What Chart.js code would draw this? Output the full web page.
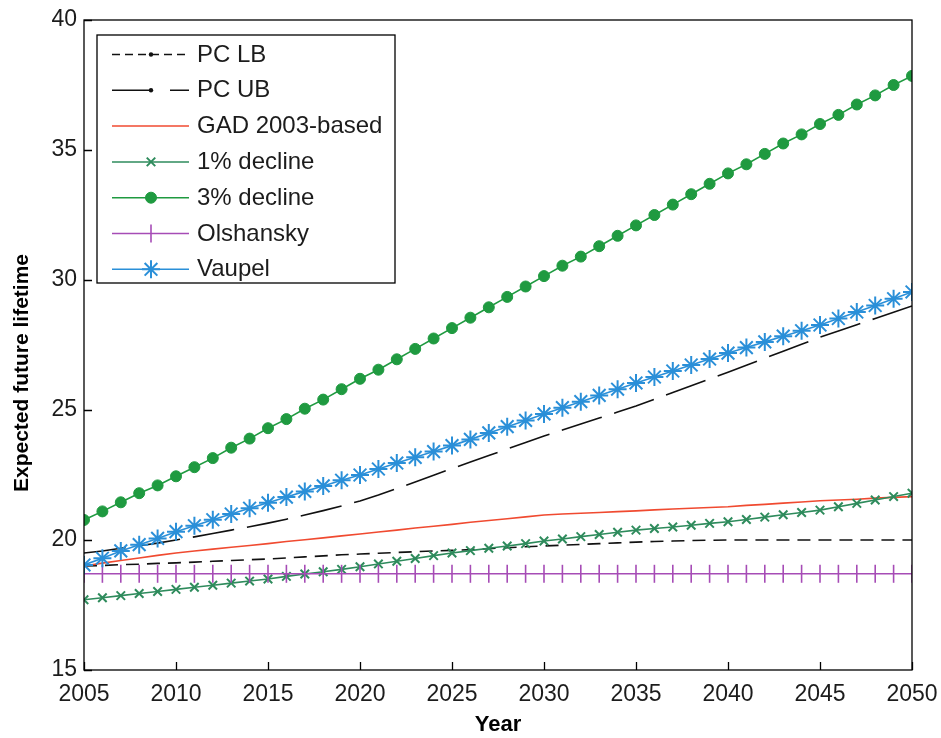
<!DOCTYPE html>
<html>
<head>
<meta charset="utf-8">
<script src="https://cdn.jsdelivr.net/npm/chart.js@4.4.1/dist/chart.umd.min.js"></script>
<style>
  html, body { margin: 0; padding: 0; background: #ffffff; }
  canvas { display: block; }
</style>
</head>
<body>
<canvas id="c" width="941" height="738"></canvas>
<script>
// Projection years and tick values
const years = [];
for (let y = 2005; y <= 2050; y++) years.push(y);
const xTicks = [2005, 2010, 2015, 2020, 2025, 2030, 2035, 2040, 2045, 2050];
const yTicks = [15, 20, 25, 30, 35, 40];

// Expected future lifetime by scenario, one value per year 2005-2050
const pcLB = [19.00, 19.02, 19.05, 19.07, 19.10, 19.12, 19.15, 19.18, 19.21, 19.24,
              19.27, 19.31, 19.35, 19.39, 19.43, 19.46, 19.49, 19.52, 19.55, 19.58,
              19.60, 19.63, 19.67, 19.70, 19.74, 19.77, 19.80, 19.83, 19.86, 19.89,
              19.92, 19.94, 19.96, 19.98, 19.99, 20.00, 20.00, 20.00, 20.00, 20.00,
              20.00, 20.00, 20.00, 20.00, 20.00, 20.00];
const pcUB = [19.50, 19.58, 19.68, 19.78, 19.88, 20.00, 20.12, 20.25, 20.38, 20.51,
              20.65, 20.80, 20.96, 21.13, 21.31, 21.50, 21.73, 21.98, 22.23, 22.49,
              22.75, 23.00, 23.25, 23.50, 23.75, 24.00, 24.23, 24.46, 24.69, 24.92,
              25.15, 25.41, 25.67, 25.93, 26.19, 26.45, 26.72, 26.99, 27.26, 27.53,
              27.80, 28.04, 28.28, 28.52, 28.76, 29.00];
const gad2003 = [19.00, 19.11, 19.21, 19.31, 19.41, 19.50, 19.58, 19.65, 19.72, 19.79,
                 19.86, 19.94, 20.01, 20.08, 20.16, 20.23, 20.31, 20.38, 20.46, 20.53,
                 20.60, 20.68, 20.75, 20.82, 20.89, 20.96, 21.00, 21.03, 21.06, 21.09,
                 21.12, 21.16, 21.19, 21.22, 21.25, 21.28, 21.33, 21.37, 21.42, 21.46,
                 21.51, 21.54, 21.57, 21.61, 21.64, 21.67];
const decline1 = [17.70, 17.78, 17.86, 17.94, 18.02, 18.10, 18.18, 18.26, 18.34, 18.42,
                  18.50, 18.60, 18.69, 18.78, 18.87, 18.97, 19.08, 19.18, 19.29, 19.40,
                  19.50, 19.59, 19.68, 19.77, 19.86, 19.96, 20.04, 20.13, 20.21, 20.30,
                  20.38, 20.44, 20.50, 20.57, 20.64, 20.70, 20.79, 20.88, 20.97, 21.06,
                  21.15, 21.28, 21.41, 21.54, 21.67, 21.80];
const decline3 = [20.77, 21.10, 21.45, 21.80, 22.10, 22.45, 22.80, 23.15, 23.55, 23.90,
                  24.30, 24.65, 25.05, 25.40, 25.80, 26.20, 26.55, 26.95, 27.35, 27.75,
                  28.15, 28.55, 28.95, 29.35, 29.75, 30.15, 30.55, 30.90, 31.30, 31.70,
                  32.10, 32.50, 32.90, 33.30, 33.70, 34.10, 34.45, 34.85, 35.25, 35.60,
                  36.00, 36.35, 36.75, 37.10, 37.50, 37.85];
const olshansky = [18.70, 18.70, 18.70, 18.70, 18.70, 18.70, 18.70, 18.70, 18.70, 18.70,
                   18.70, 18.70, 18.70, 18.70, 18.70, 18.70, 18.70, 18.70, 18.70, 18.70,
                   18.70, 18.70, 18.70, 18.70, 18.70, 18.70, 18.70, 18.70, 18.70, 18.70,
                   18.70, 18.70, 18.70, 18.70, 18.70, 18.70, 18.70, 18.70, 18.70, 18.70,
                   18.70, 18.70, 18.70, 18.70, 18.70, 18.70];
const vaupel = [19.04, 19.30, 19.58, 19.82, 20.06, 20.32, 20.55, 20.78, 21.00, 21.22,
                21.43, 21.65, 21.87, 22.08, 22.30, 22.50, 22.73, 22.96, 23.18, 23.40,
                23.63, 23.87, 24.12, 24.36, 24.60, 24.85, 25.09, 25.32, 25.56, 25.80,
                26.04, 26.27, 26.50, 26.73, 26.96, 27.19, 27.40, 27.62, 27.84, 28.05,
                28.27, 28.52, 28.77, 29.02, 29.28, 29.54];

const seriesNames = ['PC LB', 'PC UB', 'GAD 2003-based', '1% decline', '3% decline', 'Olshansky', 'Vaupel'];
const yTitle = 'Expected future lifetime';
const xTitle = 'Year';

const toXY = vals => years.map((yr, i) => ({ x: yr, y: vals[i] }));
const TEXT = '#1c1c1c';
const FONT = '"Liberation Sans", Arial, sans-serif';

const styles = [
  { color: '#111111', dash: [13, 8], point: false, legendDot: true },
  { color: '#111111', dash: [42, 13], point: false, legendDot: true },
  { color: '#f04a30', dash: [], point: false },
  { color: '#2e8b5c', dash: [], point: 'crossRot', radius: 6, rotation: 0, bw: 2 },
  { color: '#1f9a40', dash: [], point: 'circle', radius: 5.5, rotation: 0, bw: 1 },
  { color: '#a64cb6', dash: [], point: 'line', radius: 9, rotation: 90, bw: 1.6 },
  { color: '#2a8fd8', dash: [], point: 'star', radius: 9, rotation: 0, bw: 2 }
];
const values = [pcLB, pcUB, gad2003, decline1, decline3, olshansky, vaupel];

const datasets = values.map((vals, i) => {
  const s = styles[i];
  return {
    label: seriesNames[i],
    data: toXY(vals),
    borderColor: s.color,
    backgroundColor: s.color,
    borderWidth: 1.6,
    borderDash: s.dash,
    pointStyle: s.point || 'circle',
    pointRadius: s.point ? s.radius : 0,
    pointRotation: s.rotation || 0,
    pointBorderWidth: s.bw || 1.6,
    pointBackgroundColor: s.color,
    pointBorderColor: s.color,
    pointHoverRadius: s.point ? s.radius : 0,
    tension: 0,
    order: 7 - i
  };
});

// Frame, inward tick marks, y-axis title and the boxed legend
const framePlugin = {
  id: 'frame',
  afterDatasetsDraw(chart) {
    const { ctx, chartArea: a, scales } = chart;
    ctx.save();
    ctx.strokeStyle = '#000000';
    ctx.lineWidth = 1.3;
    ctx.setLineDash([]);
    ctx.strokeRect(a.left, a.top, a.right - a.left, a.bottom - a.top);
    const tl = 8;
    ctx.beginPath();
    xTicks.forEach(v => {
      const px = Math.round(scales.x.getPixelForValue(v)) + 0.5;
      ctx.moveTo(px, a.bottom);
      ctx.lineTo(px, a.bottom - tl);
    });
    yTicks.forEach(v => {
      const py = Math.round(scales.y.getPixelForValue(v)) + 0.5;
      ctx.moveTo(a.left, py);
      ctx.lineTo(a.left + tl, py);
    });
    ctx.stroke();

    // Y-axis title
    ctx.save();
    ctx.translate(22, 373);
    ctx.rotate(-Math.PI / 2);
    ctx.font = 'bold 21px ' + FONT;
    ctx.fillStyle = '#000000';
    ctx.textAlign = 'center';
    ctx.textBaseline = 'middle';
    ctx.fillText(yTitle, 0, 0);
    ctx.restore();

    // Legend box
    const lx = 97, ly = 35, lw = 298, lh = 248;
    ctx.fillStyle = '#ffffff';
    ctx.fillRect(lx, ly, lw, lh);
    ctx.strokeStyle = '#000000';
    ctx.lineWidth = 1.3;
    ctx.strokeRect(lx, ly, lw, lh);
    const rowY0 = 54, rowGap = 35.8;
    const x0 = 112, x1 = 189, xm = 151, tx = 197;
    ctx.font = '24px ' + FONT;
    ctx.textBaseline = 'middle';
    ctx.textAlign = 'left';
    seriesNames.forEach((name, i) => {
      const s = styles[i];
      const y = rowY0 + i * rowGap;
      ctx.strokeStyle = s.color;
      ctx.fillStyle = s.color;
      ctx.lineWidth = 1.5;
      ctx.setLineDash(s.dash.length ? (i === 0 ? [8, 5] : [40, 18]) : []);
      ctx.beginPath();
      ctx.moveTo(x0, y + 0.5);
      ctx.lineTo(x1, y + 0.5);
      ctx.stroke();
      ctx.setLineDash([]);
      if (s.legendDot) {
        ctx.beginPath();
        ctx.arc(xm, y + 0.5, 2.2, 0, Math.PI * 2);
        ctx.fill();
      }
      if (s.point) {
        ctx.lineWidth = s.bw || 1.6;
        Chart.helpers.drawPoint(ctx, {
          pointStyle: s.point, radius: s.radius, rotation: s.rotation, borderWidth: s.bw || 1.6
        }, xm, y + 0.5);
      }
      ctx.fillStyle = TEXT;
      ctx.fillText(name, tx, y + 1);
    });
    ctx.restore();
  }
};

new Chart(document.getElementById('c'), {
  type: 'line',
  data: { datasets },
  plugins: [framePlugin],
  options: {
    responsive: false,
    devicePixelRatio: 1,
    animation: false,
    events: [],
    layout: { padding: { left: 0, right: 29, top: 20, bottom: 0 } },
    plugins: { legend: { display: false }, tooltip: { enabled: false } },
    scales: {
      x: {
        type: 'linear',
        min: 2005,
        max: 2050,
        afterFit(s) { s.height = 68; s.paddingLeft = 0; s.paddingRight = 0; },
        afterBuildTicks(s) { s.ticks = xTicks.map(v => ({ value: v })); },
        grid: { display: true, drawOnChartArea: false, drawTicks: false, color: 'rgba(0,0,0,0)' },
        border: { display: false },
        ticks: {
          color: TEXT,
          padding: 11,
          maxRotation: 0,
          font: { family: FONT, size: 23 },
          callback: v => String(v)
        },
        title: {
          display: true,
          text: xTitle,
          color: '#000000',
          padding: { top: 0, bottom: 0 },
          font: { family: FONT, size: 22, weight: 'bold' }
        }
      },
      y: {
        type: 'linear',
        min: 15,
        max: 40,
        afterFit(s) { s.width = 84; s.paddingTop = 0; s.paddingBottom = 0; },
        afterBuildTicks(s) { s.ticks = yTicks.map(v => ({ value: v })); },
        grid: { display: true, drawOnChartArea: false, drawTicks: false, color: 'rgba(0,0,0,0)' },
        border: { display: false },
        ticks: {
          color: TEXT,
          padding: 7,
          font: { family: FONT, size: 23 },
          callback: v => String(v)
        },
        title: { display: false }
      }
    }
  }
});
</script>
</body>
</html>
